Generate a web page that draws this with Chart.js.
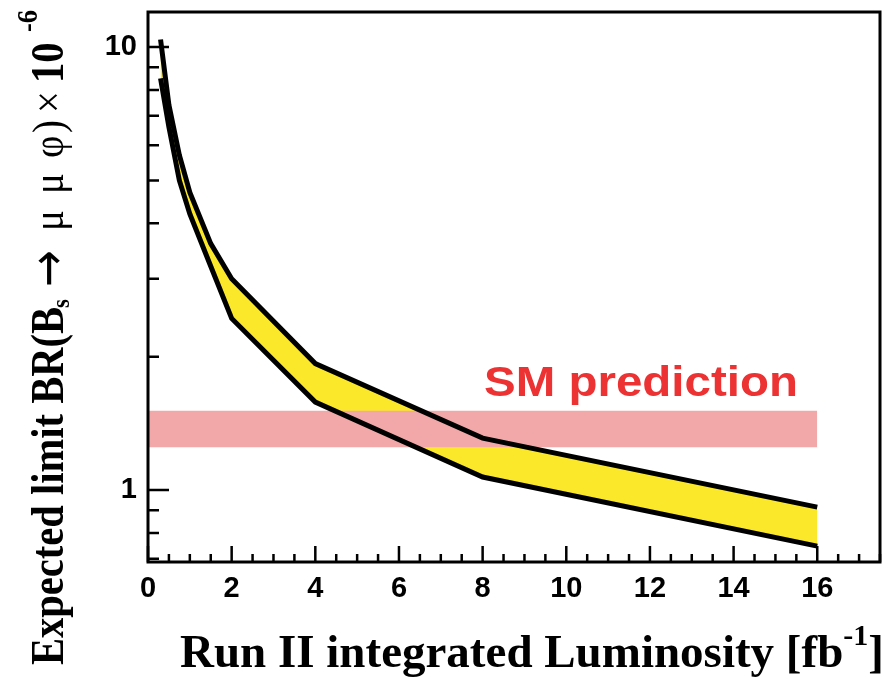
<!DOCTYPE html>
<html>
<head>
<meta charset="utf-8">
<script src="https://cdn.jsdelivr.net/npm/chart.js@4.4.0/dist/chart.umd.min.js"></script>
<style>
  html, body { margin: 0; padding: 0; background: #fff; }
  canvas { display: block; }
</style>
</head>
<body>
<canvas id="limitChart" width="896" height="692"></canvas>
<script>
// expected limit band vs luminosity
const lumi = [0.3, 0.5, 0.75, 1, 1.5, 2, 4, 8, 16];
const limitHigh = [10.4, 7.4, 5.7, 4.7, 3.6, 3.0, 1.93, 1.31, 0.915];
const limitLow = [8.5, 6.6, 5.0, 4.2, 3.2, 2.44, 1.58, 1.07, 0.747];

// SM prediction band
const smLumi = [0, 16];
const smLow = [1.25, 1.25];
const smHigh = [1.51, 1.51];

const xTicks = [0, 2, 4, 6, 8, 10, 12, 14, 16];
const yTicks = [1, 10];
const yMinorTicks = [0.7, 0.8, 0.9, 2, 3, 4, 5, 6, 7, 8, 9];

const YELLOW = "rgb(252,232,42)";
const PINK = "rgb(242,168,168)";
const RED = "rgb(236,50,50)";
const SERIF = "'Liberation Serif', 'Times New Roman', serif";
const TICK_FONT = "'Liberation Sans Narrow', 'Liberation Sans', Arial, sans-serif";

const toPoints = (xs, ys) => xs.map((x, i) => ({ x: x, y: ys[i] }));

const framePlugin = {
  id: "frame",
  afterDraw(chart) {
    const ctx = chart.ctx;
    const area = chart.chartArea;
    const xs = chart.scales.x;
    const ys = chart.scales.y;
    ctx.save();
    ctx.strokeStyle = "#000";
    ctx.lineWidth = 3;
    ctx.strokeRect(area.left, area.top, area.right - area.left, area.bottom - area.top);

    // ticks point inward, ROOT style
    ctx.lineWidth = 2.5;
    ctx.beginPath();
    for (let v = 0; v <= 17.5; v += 0.5) {
      const px = xs.getPixelForValue(v);
      const len = xTicks.includes(v) ? 16 : 8;
      ctx.moveTo(px, area.bottom);
      ctx.lineTo(px, area.bottom - len);
    }
    yTicks.forEach(v => {
      const py = ys.getPixelForValue(v);
      ctx.moveTo(area.left, py);
      ctx.lineTo(area.left + 21, py);
    });
    yMinorTicks.forEach(v => {
      const py = ys.getPixelForValue(v);
      ctx.moveTo(area.left, py);
      ctx.lineTo(area.left + 11, py);
    });
    ctx.stroke();

    // SM label (stretched a bit like the original)
    ctx.fillStyle = RED;
    ctx.font = "bold 42px 'Liberation Sans', Arial, sans-serif";
    const smW = ctx.measureText("SM prediction").width;
    ctx.save();
    ctx.translate(484, 396);
    ctx.scale(314 / smW, 1);
    ctx.fillText("SM prediction", 0, 0);
    ctx.restore();

    // x title
    ctx.fillStyle = "#000";
    ctx.font = "bold 47px " + SERIF;
    const main = "Run II integrated Luminosity [fb";
    ctx.fillText(main, 180, 667);
    let cx = 180 + ctx.measureText(main).width;
    ctx.font = "bold 30px " + SERIF;
    ctx.fillText("-1", cx, 645);
    cx += ctx.measureText("-1").width;
    ctx.font = "bold 47px " + SERIF;
    ctx.fillText("]", cx, 667);

    // y title, rotated; pieces placed along the axis
    ctx.translate(63, 665);
    ctx.rotate(-Math.PI / 2);
    ctx.font = "bold 46px " + SERIF;
    const head = "Expected limit BR(B";
    const squeeze = 358 / ctx.measureText(head).width;
    const pieces = [
      { text: head, font: "bold 46px " + SERIF, at: 0, dy: 0 },
      { text: "s", font: "bold 26px " + SERIF, at: 357, dy: 6 },
      { text: "\u2192", font: "50px 'DejaVu Sans', sans-serif", at: 378, dy: 2 },
      { text: "\u03bc", font: "44px " + SERIF, at: 434, dy: 0 },
      { text: "\u03bc", font: "44px " + SERIF, at: 471, dy: 0 },
      { text: "\u03c6", font: "44px " + SERIF, at: 507, dy: 0 },
      { text: ")", font: "44px " + SERIF, at: 532, dy: 0 },
      { text: "\u00d7", font: "44px " + SERIF, at: 552, dy: 0 },
      { text: "10", font: "bold 46px " + SERIF, at: 582, dy: 0 },
      { text: "-6", font: "bold 30px " + SERIF, at: 633, dy: -26 }
    ];
    pieces.forEach(p => {
      ctx.save();
      ctx.translate(p.at, p.dy);
      ctx.scale(squeeze, 1);
      ctx.font = p.font;
      ctx.fillText(p.text, 0, 0);
      ctx.restore();
    });
    ctx.restore();
  }
};

const lineStyle = {
  borderColor: "#000",
  borderWidth: 5,
  borderJoinStyle: "miter",
  pointRadius: 0,
  fill: false,
  order: 1
};

const noPad = s => { s.paddingTop = 0; s.paddingBottom = 0; s.paddingLeft = 0; s.paddingRight = 0; };

new Chart(document.getElementById("limitChart"), {
  type: "line",
  data: {
    datasets: [
      { data: toPoints(lumi, limitHigh), borderWidth: 0, pointRadius: 0, fill: false, order: 3 },
      { data: toPoints(lumi, limitLow), borderWidth: 0, pointRadius: 0, fill: "-1", backgroundColor: YELLOW, order: 3 },
      { data: toPoints(smLumi, smHigh), borderWidth: 0, pointRadius: 0, fill: false, order: 2 },
      { data: toPoints(smLumi, smLow), borderWidth: 0, pointRadius: 0, fill: "-1", backgroundColor: PINK, order: 2 },
      Object.assign({ data: toPoints(lumi, limitHigh) }, lineStyle),
      Object.assign({ data: toPoints(lumi, limitLow) }, lineStyle)
    ]
  },
  options: {
    responsive: false,
    animation: false,
    layout: { padding: { left: 0, right: 16, top: 12, bottom: 0 } },
    plugins: { legend: { display: false }, tooltip: { enabled: false } },
    scales: {
      x: {
        type: "linear",
        min: 0,
        max: 17.5,
        afterBuildTicks: s => { s.ticks = xTicks.map(v => ({ value: v })); },
        afterFit: s => { s.height = 130; noPad(s); },
        grid: { display: false, drawTicks: false },
        border: { display: false },
        ticks: {
          padding: 10,
          maxRotation: 0,
          color: "#000",
          font: { family: TICK_FONT, weight: "bold", size: 29 }
        }
      },
      y: {
        type: "logarithmic",
        min: 0.688,
        max: 12.0,
        afterBuildTicks: s => { s.ticks = yTicks.map(v => ({ value: v })); },
        afterFit: s => { s.width = 148; noPad(s); },
        grid: { display: false, drawTicks: false },
        border: { display: false },
        ticks: {
          padding: 11,
          color: "#000",
          callback: v => String(v),
          font: { family: TICK_FONT, weight: "bold", size: 29 }
        }
      }
    }
  },
  plugins: [framePlugin]
});
</script>
</body>
</html>
